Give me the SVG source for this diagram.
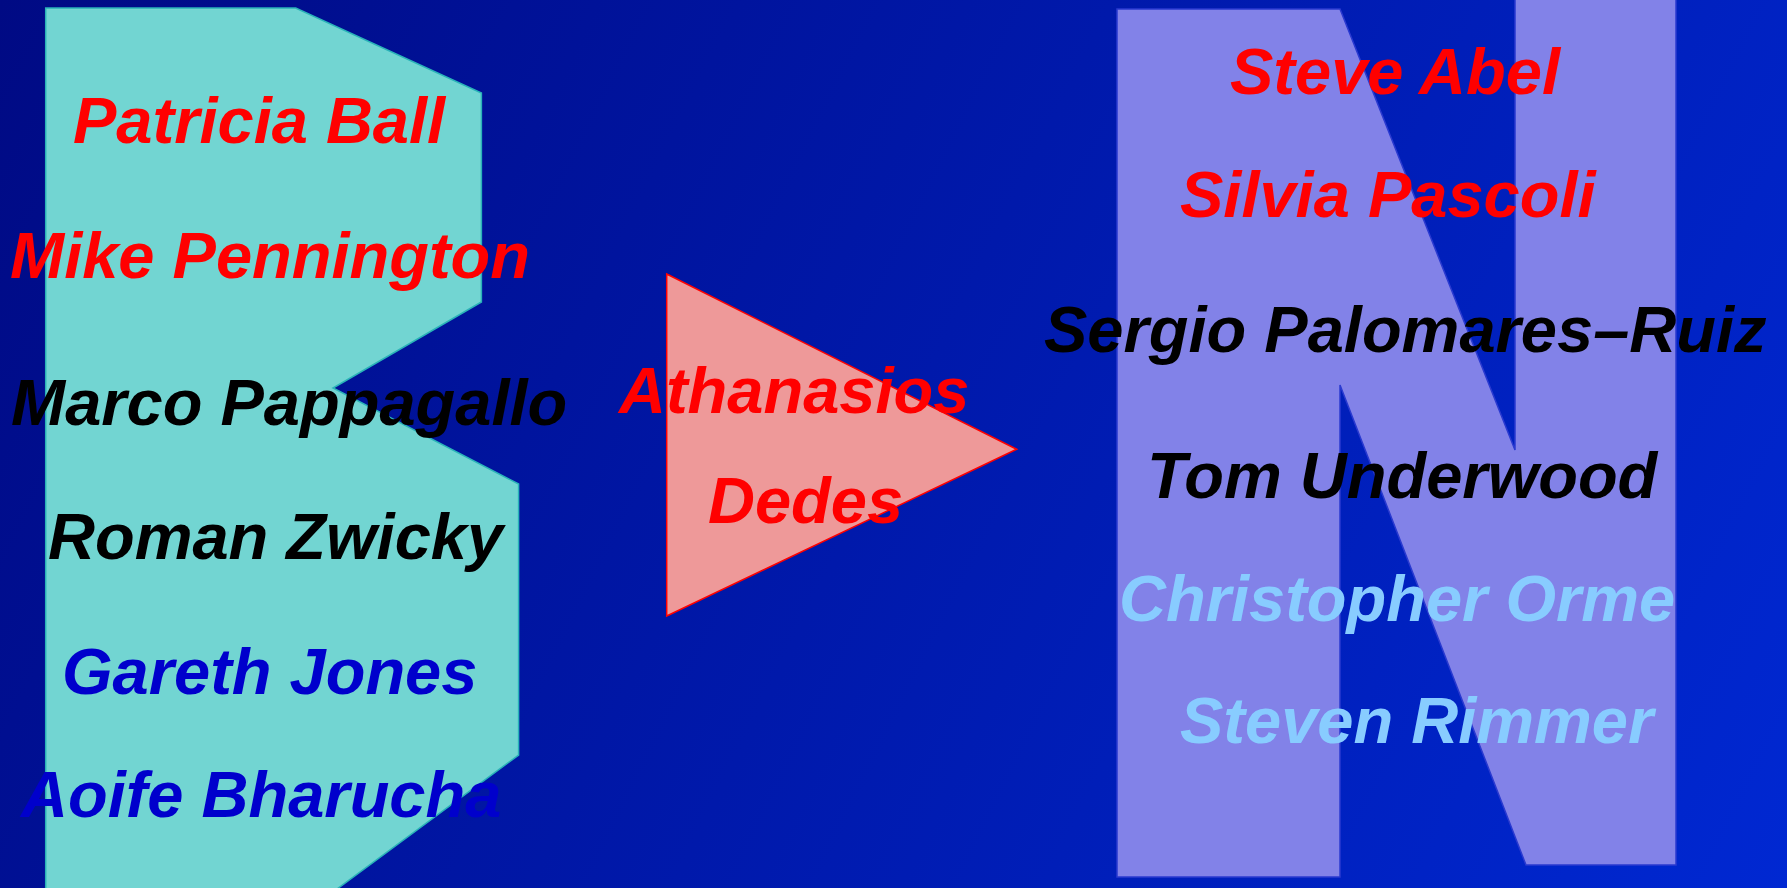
<svg xmlns="http://www.w3.org/2000/svg" width="1787" height="888" viewBox="0 0 1787 888">
  <defs>
    <linearGradient id="bg" gradientUnits="userSpaceOnUse" x1="0" y1="0" x2="1787" y2="888">
      <stop offset="0" stop-color="#000a84"/>
      <stop offset="1" stop-color="#0028d2"/>
    </linearGradient>
  </defs>
  <style>
    text { font-family: "Liberation Sans", Arial, sans-serif; font-weight: bold; font-style: italic; font-size: 65px; }
    .red { fill: #ff0000; }
    .blk { fill: #000000; }
    .blu { fill: #0000cc; }
    .lbl { fill: #88ccff; }
    .b { fill: #72d5d2; stroke: #2ab3b8; stroke-width: 1.5; }
    .tri { fill: #ee9999; stroke: #ff0000; stroke-width: 1.5; }
    .n { fill: #8282e8; stroke: #2a3ad0; stroke-width: 1.5; }
  </style>
  <rect x="0" y="0" width="1787" height="888" fill="url(#bg)"/>

  <g id="node-b">
    <polygon class="b" points="45.7,8 295.7,8 481.4,93 481.4,302 333,388 518.6,484 518.6,755 335.7,890 45.7,890"/>
    <text class="red" x="73" y="143">Patricia Ball</text>
    <text class="red" x="10" y="278">Mike Pennington</text>
    <text class="blk" x="11" y="425">Marco Pappagallo</text>
    <text class="blk" x="48" y="559">Roman Zwicky</text>
    <text class="blu" x="62" y="694">Gareth Jones</text>
    <text class="blu" x="21" y="817">Aoife Bharucha</text>
  </g>

  <g id="node-triangle">
    <polygon class="tri" points="666.7,274 1016.7,449.3 666.7,616"/>
    <text class="red" x="619" y="413">Athanasios</text>
    <text class="red" x="708" y="523">Dedes</text>
  </g>

  <g id="node-n">
    <polygon class="n" points="1117,9 1340,9 1515,450 1515,-2 1676,-2 1676,865 1526,865 1340,385 1340,877 1117,877"/>
    <text class="red" x="1230" y="94">Steve Abel</text>
    <text class="red" x="1180" y="217">Silvia Pascoli</text>
    <text class="blk" x="1044" y="352">Sergio Palomares–Ruiz</text>
    <text class="blk" x="1147" y="498">Tom Underwood</text>
    <text class="lbl" x="1119" y="621">Christopher Orme</text>
    <text class="lbl" x="1180" y="743">Steven Rimmer</text>
  </g>

  <g id="connectors"/>
</svg>
